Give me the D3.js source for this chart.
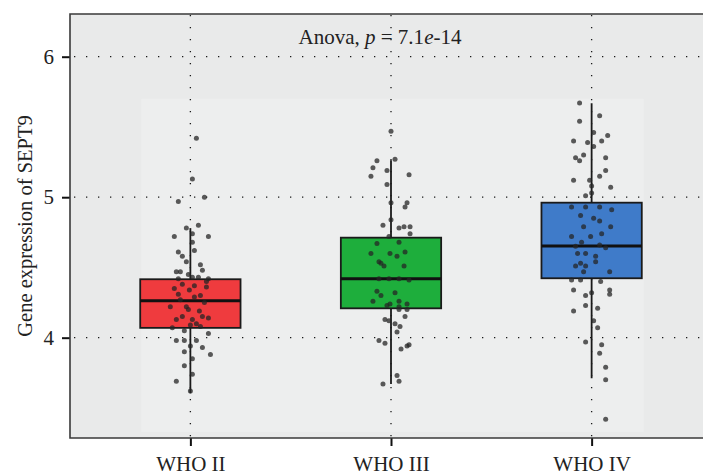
<!DOCTYPE html>
<html>
<head>
<meta charset="utf-8">
<script src="https://cdn.jsdelivr.net/npm/d3@7"></script>
<style>
  body { margin: 0; background: #fff; }
  text { font-family: "Liberation Serif", "DejaVu Serif", serif; fill: #222; }
</style>
</head>
<body>
<svg id="chart" width="703" height="476"></svg>
<script>
const categories = ["WHO II", "WHO III", "WHO IV"];
const boxColors = ["#ef3b3e", "#1eae3c", "#3f7bc9"];

// box stats
const q1 = [4.07, 4.209, 4.423];
const medians = [4.263, 4.42, 4.653];
const q3 = [4.416, 4.712, 4.961];
const whiskerLow = [3.604, 3.67, 3.711];
const whiskerHigh = [4.78, 5.263, 5.668];

const yTicks = [4, 5, 6];

// [jitter (category units), expression]
const whoII = [
  [0.03, 5.42], [0.01, 5.13], [0.07, 5.00], [-0.06, 4.97], [-0.02, 4.78], [0.04, 4.80],
  [-0.08, 4.72], [0.09, 4.72], [0.01, 4.74], [0.01, 4.68], [-0.06, 4.61], [-0.02, 4.54],
  [0.05, 4.52], [-0.07, 4.47], [-0.05, 4.47], [0.01, 4.43], [0.04, 4.43], [0.09, 4.42],
  [-0.06, 4.42], [-0.08, 4.35], [-0.04, 4.38], [-0.005, 4.34], [0.08, 4.36], [-0.05, 4.27],
  [0.02, 4.29], [-0.10, 4.22], [-0.02, 4.22], [0.045, 4.19], [-0.07, 4.13], [0.09, 4.14],
  [-0.04, 4.15], [0.01, 4.13], [0.06, 4.15], [-0.09, 4.07], [0.00, 4.09], [-0.07, 3.98],
  [-0.03, 3.98], [0.03, 3.98], [0.09, 4.03], [0.00, 3.94], [0.06, 3.93], [-0.03, 3.90],
  [0.10, 3.88], [0.01, 3.85], [-0.03, 3.80], [0.01, 3.74], [-0.07, 3.69], [0.00, 3.62],
  [0.05, 4.30], [0.07, 4.25], [-0.01, 4.20], [0.03, 4.10], [-0.06, 4.31], [0.08, 4.40],
  [0.02, 4.37], [-0.03, 4.05], [0.05, 4.08], [-0.01, 4.45], [0.06, 4.48], [-0.04, 4.58],
  [0.02, 4.62]
];
const whoIII = [
  [0.00, 5.47], [-0.07, 5.26], [0.02, 5.27], [-0.09, 5.21], [-0.10, 5.15], [-0.02, 5.19],
  [0.09, 5.16], [-0.02, 5.09], [0.00, 4.96], [0.08, 4.96], [0.07, 4.93], [0.00, 4.84],
  [-0.04, 4.80], [0.04, 4.78], [0.065, 4.79], [0.095, 4.79], [0.095, 4.74], [-0.01, 4.72],
  [-0.07, 4.67], [0.04, 4.68], [-0.10, 4.60], [-0.005, 4.60], [0.03, 4.58], [0.07, 4.61],
  [-0.06, 4.54], [-0.05, 4.53], [-0.035, 4.51], [0.065, 4.51], [-0.06, 4.42], [-0.01, 4.42],
  [0.04, 4.42], [0.09, 4.41], [-0.07, 4.33], [-0.05, 4.30], [0.02, 4.32], [-0.09, 4.26],
  [0.04, 4.26], [-0.02, 4.23], [-0.005, 4.24], [0.04, 4.22], [0.08, 4.24], [0.04, 4.20],
  [0.08, 4.20], [-0.03, 4.13], [-0.01, 4.12], [0.02, 4.10], [0.045, 4.08], [0.07, 4.15],
  [0.03, 4.04], [-0.06, 3.98], [-0.03, 3.96], [0.05, 3.92], [0.08, 3.94], [0.09, 3.95],
  [-0.04, 3.67], [0.03, 3.73], [0.04, 3.69]
];
const whoIV = [
  [-0.06, 5.67], [0.04, 5.58], [-0.06, 5.54], [0.01, 5.46], [0.08, 5.44], [-0.09, 5.40],
  [-0.02, 5.39], [0.05, 5.40], [0.01, 5.36], [-0.08, 5.28], [-0.06, 5.26], [-0.04, 5.30],
  [0.07, 5.28], [0.07, 5.19], [0.04, 5.15], [-0.09, 5.12], [-0.01, 5.12], [0.00, 5.08],
  [0.095, 5.07], [0.00, 5.03], [-0.03, 5.01], [-0.10, 4.93], [-0.03, 4.93], [0.04, 4.93],
  [0.10, 4.91], [-0.055, 4.87], [0.01, 4.85], [0.04, 4.83], [-0.04, 4.79], [0.095, 4.79],
  [0.05, 4.74], [-0.10, 4.72], [-0.005, 4.72], [-0.05, 4.68], [-0.08, 4.65], [0.04, 4.66],
  [0.07, 4.64], [-0.07, 4.60], [-0.03, 4.60], [0.02, 4.58], [-0.055, 4.53], [-0.03, 4.51],
  [-0.08, 4.51], [0.02, 4.54], [0.09, 4.47], [-0.04, 4.47], [-0.10, 4.41], [-0.055, 4.41],
  [0.045, 4.40], [0.09, 4.34], [-0.09, 4.34], [0.00, 4.32], [-0.03, 4.30], [-0.03, 4.23],
  [0.09, 4.31], [-0.09, 4.19], [0.03, 4.21], [0.01, 4.12], [0.03, 4.07], [-0.03, 3.97],
  [0.05, 3.95], [0.04, 3.89], [0.07, 3.79], [0.07, 3.70], [0.07, 3.42]
];
const groups = [whoII, whoIII, whoIV];

const svg = d3.select("#chart");
const margin = { left: 70, top: 14, bottom: 438, right: 712 };

const x = d3.scaleLinear().domain([0.4, 3.6]).range([margin.left, margin.right]);
const y = d3.scaleLinear().domain([3.286, 6.304]).range([margin.bottom, margin.top]);

// panel
svg.append("rect")
  .attr("x", margin.left).attr("y", margin.top)
  .attr("width", margin.right - margin.left).attr("height", margin.bottom - margin.top)
  .attr("fill", "#e9eaea");
// slightly lighter pasted area around the boxes
svg.append("rect")
  .attr("x", x(0.755)).attr("y", y(5.70))
  .attr("width", x(3.26) - x(0.755)).attr("height", y(3.33) - y(5.70))
  .attr("fill", "#edeeee");

// dotted grid
const grid = svg.append("g")
  .attr("stroke", "#1a1a1a").attr("stroke-width", 1.3)
  .attr("stroke-dasharray", "1.3,10.7");
grid.selectAll(".gy").data(yTicks).join("line")
  .attr("x1", x(0.4) + 4).attr("x2", margin.right)
  .attr("y1", d => y(d)).attr("y2", d => y(d));
grid.selectAll(".gx").data([1, 2, 3]).join("line")
  .attr("x1", d => x(d)).attr("x2", d => x(d))
  .attr("y1", margin.top + 1).attr("y2", margin.bottom);

// boxes
const boxW = 0.5;
categories.forEach((c, i) => {
  const g = svg.append("g");
  const cx = x(i + 1);
  g.append("line")
    .attr("x1", cx).attr("x2", cx)
    .attr("y1", y(whiskerLow[i])).attr("y2", y(whiskerHigh[i]))
    .attr("stroke", "#1a1a1a").attr("stroke-width", 1.8);
  g.append("rect")
    .attr("x", x(i + 1 - boxW / 2)).attr("y", y(q3[i]))
    .attr("width", x(i + 1 + boxW / 2) - x(i + 1 - boxW / 2))
    .attr("height", y(q1[i]) - y(q3[i]))
    .attr("fill", boxColors[i]).attr("stroke", "#1a1a1a").attr("stroke-width", 1.8);
  g.append("line")
    .attr("x1", x(i + 1 - boxW / 2)).attr("x2", x(i + 1 + boxW / 2))
    .attr("y1", y(medians[i])).attr("y2", y(medians[i]))
    .attr("stroke", "#111").attr("stroke-width", 3);

  g.selectAll("circle").data(groups[i]).join("circle")
    .attr("cx", d => x(i + 1 + d[0]))
    .attr("cy", d => y(d[1]))
    .attr("r", 2.5)
    .attr("fill", "#262626").attr("fill-opacity", 0.75);
});

// axes
const yAxis = svg.append("g")
  .attr("transform", `translate(${margin.left},0)`)
  .call(d3.axisLeft(y).tickValues(yTicks).tickSize(8).tickPadding(8).tickFormat(d3.format("d")));
const xAxis = svg.append("g")
  .attr("transform", `translate(0,${margin.bottom})`)
  .call(d3.axisBottom(x).tickValues([1, 2, 3]).tickSize(8).tickPadding(10)
    .tickFormat(d => categories[d - 1]));
[yAxis, xAxis].forEach(a => {
  a.select(".domain").remove();
  a.selectAll(".tick line").attr("stroke", "#111").attr("stroke-width", 2);
  a.selectAll(".tick text").style("font-family", '"Liberation Serif", serif')
    .style("font-size", "21px").attr("fill", "#222");
});

// frame lines (left, bottom, top)
svg.append("path")
  .attr("d", `M${margin.right},${margin.top}H${margin.left}V${margin.bottom}H${margin.right}`)
  .attr("fill", "none").attr("stroke", "#3a3a3a").attr("stroke-width", 1.6);

// y title
svg.append("text")
  .attr("transform", `translate(32,${(margin.top + margin.bottom) / 2}) rotate(-90)`)
  .attr("text-anchor", "middle")
  .style("font-size", "20.5px")
  .text("Gene expression of SEPT9");

// anova label
const lab = svg.append("text")
  .attr("x", 380).attr("y", 44)
  .attr("text-anchor", "middle")
  .style("font-size", "21px");
lab.append("tspan").text("Anova, ");
lab.append("tspan").style("font-style", "italic").text("p");
lab.append("tspan").text(" = 7.1");
lab.append("tspan").style("font-style", "italic").text("e");
lab.append("tspan").text("-14");
</script>
</body>
</html>
